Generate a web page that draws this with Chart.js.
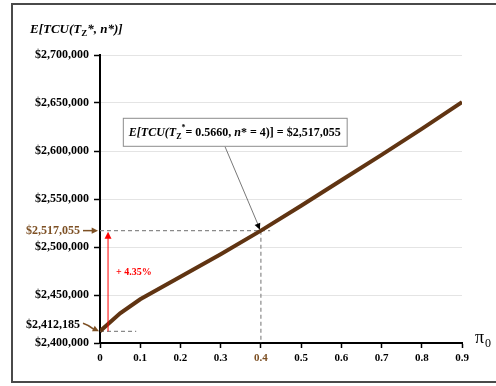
<!DOCTYPE html>
<html>
<head>
<meta charset="utf-8">
<script src="https://cdn.jsdelivr.net/npm/chart.js@4.4.1/dist/chart.umd.min.js"></script>
<style>
  html, body { margin: 0; padding: 0; background: #fff; }
  canvas { display: block; }
</style>
</head>
<body>
<canvas id="costChart" width="496" height="386"></canvas>
<script>
// Expected total cost vs. pi0
const piValues = [0, 0.05, 0.1, 0.2, 0.3, 0.4, 0.5, 0.6, 0.7, 0.8, 0.9];
const costValues = [2412185, 2431000, 2445500, 2469000, 2492500, 2517055, 2543000, 2569500, 2596000, 2623000, 2651000];

// reference points used by the annotations
const optimumPi = 0.4;
const optimumCost = 2517055;
const baseCost = 2412185;
const increaseLabel = '+ 4.35%';
const boxLabel = ['E[TCU(T', 'Z', '*', '= 0.5660, ', 'n', '* = 4)] = $2,517,055'];

const LINE_BROWN = '#603412';
const LABEL_BROWN = '#7d5024';
const SERIF = '"Liberation Serif", "Times New Roman", serif';

function fmtMoney(v) {
    return '$' + Math.round(v).toLocaleString('en-US');
}

function arrowHead(ctx, x1, y1, x2, y2, size, color) {
    const a = Math.atan2(y2 - y1, x2 - x1);
    ctx.fillStyle = color;
    ctx.beginPath();
    ctx.moveTo(x2, y2);
    ctx.lineTo(x2 - size * Math.cos(a - 0.45), y2 - size * Math.sin(a - 0.45));
    ctx.lineTo(x2 - size * Math.cos(a + 0.45), y2 - size * Math.sin(a + 0.45));
    ctx.closePath();
    ctx.fill();
}

const annotations = {
    id: 'annotations',
    beforeDatasetsDraw(chart) {
        const ctx = chart.ctx;
        const xs = chart.scales.x, ys = chart.scales.y;
        const left = chart.chartArea.left, bottom = chart.chartArea.bottom;
        const yOpt = ys.getPixelForValue(optimumCost);
        const xOpt = xs.getPixelForValue(optimumPi);
        const yBase = ys.getPixelForValue(baseCost);

        ctx.save();
        ctx.strokeStyle = '#8a8a8a';
        ctx.lineWidth = 1.2;
        ctx.setLineDash([4, 3]);
        ctx.beginPath();
        ctx.moveTo(left, yOpt);
        ctx.lineTo(xs.getPixelForValue(0.423), yOpt);
        ctx.moveTo(xOpt, yOpt);
        ctx.lineTo(xOpt, bottom);
        ctx.moveTo(left, yBase);
        ctx.lineTo(xs.getPixelForValue(0.09), yBase);
        ctx.stroke();
        ctx.restore();
    },
    afterDraw(chart) {
        const ctx = chart.ctx;
        const xs = chart.scales.x, ys = chart.scales.y;
        const left = chart.chartArea.left;
        const yOpt = ys.getPixelForValue(optimumCost);
        const xOpt = xs.getPixelForValue(optimumPi);
        const yBase = ys.getPixelForValue(baseCost);

        ctx.save();

        // outer frame
        ctx.strokeStyle = '#4a4a4a';
        ctx.lineWidth = 2;
        ctx.strokeRect(12, 4, 520, 378);

        // y axis title: E[TCU(T_Z*, n*)]
        ctx.fillStyle = '#000';
        ctx.textBaseline = 'alphabetic';
        ctx.textAlign = 'left';
        let tx = 30;
        ctx.font = 'italic bold 13px ' + SERIF;
        ctx.fillText('E[TCU(T', tx, 33);
        tx += ctx.measureText('E[TCU(T').width;
        ctx.font = 'bold 9px ' + SERIF;
        ctx.fillText('Z', tx, 36);
        tx += ctx.measureText('Z').width;
        ctx.font = 'italic bold 13px ' + SERIF;
        ctx.fillText('*, n*)]', tx, 33);

        // x axis title: pi_0
        ctx.font = '18px ' + SERIF;
        ctx.fillText('\u03c0', 475, 343);
        ctx.font = '12px ' + SERIF;
        ctx.fillText('0', 485, 347);

        // red increase arrow
        const xArrow = xs.getPixelForValue(0.02);
        ctx.strokeStyle = '#ff0000';
        ctx.lineWidth = 1;
        ctx.beginPath();
        ctx.moveTo(xArrow, yBase);
        ctx.lineTo(xArrow, yOpt + 6);
        ctx.stroke();
        arrowHead(ctx, xArrow, yBase, xArrow, yOpt + 1, 8, '#ff0000');
        ctx.font = 'bold 10px ' + SERIF;
        ctx.fillStyle = '#ff0000';
        ctx.textBaseline = 'middle';
        ctx.fillText(increaseLabel, xs.getPixelForValue(0.04), ys.getPixelForValue(2474000));

        // left side value labels with arrows
        ctx.font = 'bold 12px ' + SERIF;
        ctx.textAlign = 'right';
        ctx.fillStyle = LABEL_BROWN;
        ctx.fillText(fmtMoney(optimumCost), 80, yOpt);
        ctx.strokeStyle = LABEL_BROWN;
        ctx.lineWidth = 1.5;
        ctx.beginPath();
        ctx.moveTo(83, yOpt);
        ctx.lineTo(93, yOpt);
        ctx.stroke();
        arrowHead(ctx, 83, yOpt, left - 2, yOpt, 7, LABEL_BROWN);

        ctx.fillStyle = '#000';
        ctx.fillText(fmtMoney(baseCost), 80, yBase - 6);
        ctx.beginPath();
        ctx.moveTo(83, yBase - 8);
        ctx.quadraticCurveTo(89, yBase - 6, 94, yBase - 2);
        ctx.stroke();
        arrowHead(ctx, 89, yBase - 5, left - 1, yBase, 7, LABEL_BROWN);

        // callout box
        const parts = [
            { t: boxLabel[0], f: 'italic bold 12px ', dy: 0 },
            { t: boxLabel[1], f: 'bold 8px ', dy: 3 },
            { t: boxLabel[2], f: 'bold 8px ', dy: -6 },
            { t: boxLabel[3], f: 'bold 12px ', dy: 0 },
            { t: boxLabel[4], f: 'italic bold 12px ', dy: 0 },
            { t: boxLabel[5], f: 'bold 12px ', dy: 0 }
        ];
        let total = 0;
        parts.forEach(p => { ctx.font = p.f + SERIF; p.w = ctx.measureText(p.t).width; total += p.w; });
        const cx = xs.getPixelForValue(0.335);
        const cy = ys.getPixelForValue(2620000);
        const bw = total + 12, bh = 28;
        const bx = cx - bw / 2, by = cy - bh / 2;
        ctx.fillStyle = '#fff';
        ctx.fillRect(bx, by, bw, bh);
        ctx.strokeStyle = '#8c8c8c';
        ctx.lineWidth = 1;
        ctx.strokeRect(bx + 0.5, by + 0.5, bw, bh);
        ctx.textAlign = 'left';
        ctx.textBaseline = 'alphabetic';
        ctx.fillStyle = '#000';
        let px = bx + 6;
        parts.forEach(p => {
            ctx.font = p.f + SERIF;
            ctx.fillText(p.t, px, cy + 4 + p.dy);
            px += p.w;
        });

        // leader from box to the optimum point
        const lx = xs.getPixelForValue(0.311);
        ctx.strokeStyle = '#555';
        ctx.lineWidth = 0.8;
        ctx.beginPath();
        ctx.moveTo(lx, by + bh + 1);
        ctx.lineTo(xOpt - 2, yOpt - 4);
        ctx.stroke();
        arrowHead(ctx, lx, by + bh + 1, xOpt - 1, yOpt - 1, 7, '#000');

        ctx.restore();
    }
};

new Chart(document.getElementById('costChart'), {
    type: 'line',
    data: {
        datasets: [{
            data: piValues.map((p, i) => ({ x: p, y: costValues[i] })),
            borderColor: LINE_BROWN,
            borderWidth: 4,
            pointRadius: 0,
            tension: 0,
            fill: false
        }]
    },
    options: {
        responsive: false,
        animation: false,
        layout: { padding: { left: 0, right: 34, top: 55, bottom: 0 } },
        plugins: {
            legend: { display: false },
            tooltip: { enabled: false }
        },
        scales: {
            x: {
                type: 'linear',
                min: 0,
                max: 0.9,
                afterFit(scale) { scale.height = 43; },
                border: { color: '#000', width: 2 },
                grid: {
                    drawOnChartArea: false,
                    tickLength: 5,
                    tickColor: '#000',
                    tickWidth: 1.5
                },
                ticks: {
                    stepSize: 0.1,
                    padding: 4,
                    maxRotation: 0,
                    font: { family: SERIF, size: 11, weight: 'bold' },
                    color: c => Math.abs(c.tick.value - optimumPi) < 1e-6 ? LABEL_BROWN : '#000',
                    callback: v => Number(v.toFixed(1)).toString()
                }
            },
            y: {
                min: 2400000,
                max: 2700000,
                afterFit(scale) { scale.width = 100; },
                border: { color: '#000', width: 2 },
                grid: {
                    color: '#e4e4e4',
                    lineWidth: 1,
                    tickLength: 6,
                    tickColor: '#000',
                    tickWidth: 1.5
                },
                ticks: {
                    stepSize: 50000,
                    padding: 5,
                    font: { family: SERIF, size: 12, weight: 'bold' },
                    color: '#000',
                    callback: v => fmtMoney(v)
                }
            }
        }
    },
    plugins: [annotations]
});
</script>
</body>
</html>
